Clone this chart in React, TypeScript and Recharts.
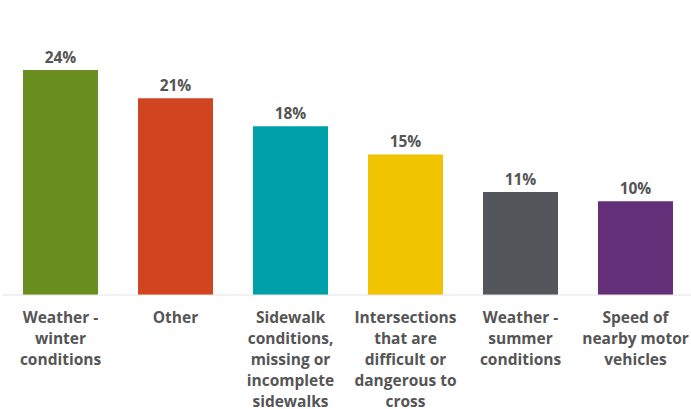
import { Bar, BarChart, Cell, LabelList, XAxis, YAxis } from 'recharts'

const categories = [
  'Weather - winter conditions',
  'Other',
  'Sidewalk conditions, missing or incomplete sidewalks',
  'Intersections that are difficult or dangerous to cross',
  'Weather - summer conditions',
  'Speed of nearby motor vehicles',
]

const tickLines = [
  ['Weather -', 'winter', 'conditions'],
  ['Other'],
  ['Sidewalk', 'conditions,', 'missing or', 'incomplete', 'sidewalks'],
  ['Intersections', 'that are', 'difficult or', 'dangerous to', 'cross'],
  ['Weather -', 'summer', 'conditions'],
  ['Speed of', 'nearby motor', 'vehicles'],
]

const values = [24, 21, 18, 15, 11, 10]

const colors = ['#6a8e1f', '#d0441f', '#00a0a8', '#f0c400', '#53565a', '#65307a']

const data = categories.map((name, i) => ({ name, value: values[i] }))

const FONT = '"Open Sans", sans-serif'

function MultiLineTick(props: any) {
  const { x, y, index } = props
  const lines = tickLines[index] || []
  return (
    <text
      x={x}
      y={y}
      textAnchor="middle"
      fontFamily={FONT}
      fontWeight={700}
      fontSize={15.5}
      fill="#555555"
    >
      {lines.map((line, i) => (
        <tspan key={i} x={x} dy={i === 0 ? 20 : 21}>
          {line}
        </tspan>
      ))}
    </text>
  )
}

export default function App() {
  return (
    <div style={{ position: 'absolute', left: 0, top: 0, width: 691, height: 409, overflow: 'hidden', background: '#fff' }}>
      <BarChart
        width={693}
        height={409}
        data={data}
        margin={{ top: 70, right: 0, left: 3, bottom: 0 }}
        barCategoryGap={20}
      >
        <XAxis
          dataKey="name"
          height={114}
          interval={0}
          tickLine={false}
          axisLine={{ stroke: '#e3e3e3' }}
          tick={<MultiLineTick />}
        />
        <YAxis hide domain={[0, 24]} />
        <Bar dataKey="value" isAnimationActive={false}>
          {data.map((_, i) => (
            <Cell key={i} fill={colors[i]} />
          ))}
          <LabelList
            dataKey="value"
            position="top"
            offset={7}
            formatter={(v: any) => `${v}%`}
            style={{ fontFamily: FONT, fontWeight: 700, fontSize: 15.5, fill: '#555555' }}
          />
        </Bar>
      </BarChart>
    </div>
  )
}
